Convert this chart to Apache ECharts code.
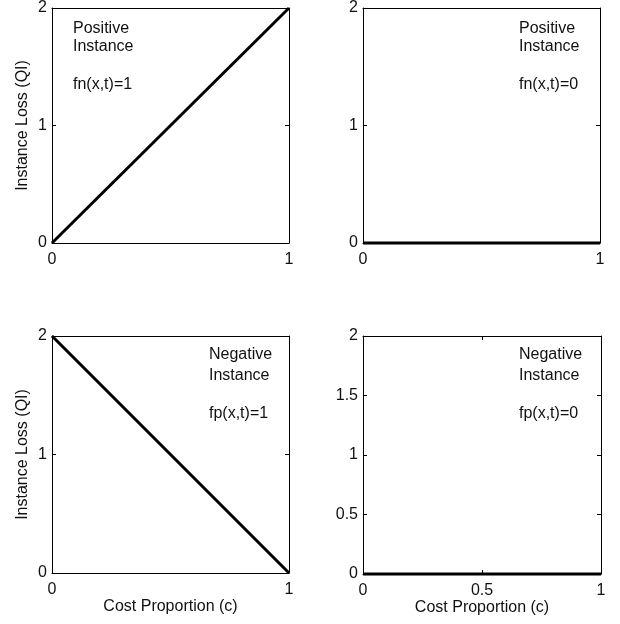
<!DOCTYPE html>
<html>
<head>
<meta charset="utf-8">
<script src="https://cdn.jsdelivr.net/npm/echarts@6/dist/echarts.min.js"></script>
<style>
html,body{margin:0;padding:0;background:#fff;}
#chart{width:620px;height:624px;}
</style>
</head>
<body>
<div id="chart"></div>
<script>
// ---- data ----
const costProportion = [0, 1];
const lossFnOne  = [0, 2];   // positive instance, fn(x,t)=1
const lossFnZero = [0, 0];   // positive instance, fn(x,t)=0
const lossFpOne  = [2, 0];   // negative instance, fp(x,t)=1
const lossFpZero = [0, 0];   // negative instance, fp(x,t)=0
const panelTexts = [
  ["Positive", "Instance", "fn(x,t)=1"],
  ["Positive", "Instance", "fn(x,t)=0"],
  ["Negative", "Instance", "fp(x,t)=1"],
  ["Negative", "Instance", "fp(x,t)=0"]
];
const panelSeries = [lossFnOne, lossFnZero, lossFpOne, lossFpZero];
const xTickStep = [1, 1, 1, 0.5];
const yTickStep = [1, 1, 1, 0.5];
const yAxisTitle = "Instance Loss (QI)";
const xAxisTitle = "Cost Proportion (c)";

// ---- layout ----
const FONT = "Liberation Sans, Arial, Helvetica, sans-serif";
const grids = [
  {left: 52,  top: 6,   width: 237, height: 237},
  {left: 363, top: 6,   width: 237, height: 237},
  {left: 52,  top: 336, width: 237, height: 237},
  {left: 363, top: 336, width: 238, height: 238}
];
const showYName = [true, false, true, false];
const showXName = [false, false, true, true];
const textPos = [
  {x: 73,  y: [29, 47, 85]},
  {x: 519, y: [29, 47, 85]},
  {x: 209, y: [355, 376, 414]},
  {x: 519, y: [355, 376, 414]}
];

const axisLineStyle = {show: true, onZero: false, lineStyle: {color: '#000', width: 1}};
const tickStyle = {show: true, inside: true, length: 4, lineStyle: {color: '#000', width: 1}};

const xAxes = [], yAxes = [], series = [], graphics = [];
grids.forEach((g, i) => {
  const common = {type: 'value', gridIndex: i, min: 0, max: 1, interval: xTickStep[i],
    axisLine: axisLineStyle, axisTick: tickStyle, splitLine: {show: false}};
  xAxes.push(Object.assign({}, common, {
    position: 'bottom',
    axisLabel: {show: true, color: '#111', fontSize: 16, fontFamily: FONT, margin: 9},
    name: showXName[i] ? xAxisTitle : '',
    nameLocation: 'middle', nameGap: 26,
    nameTextStyle: {color: '#111', fontSize: 16, fontFamily: FONT}
  }));
  xAxes.push(Object.assign({}, common, {position: 'top', axisLabel: {show: false}}));
  const ycommon = {type: 'value', gridIndex: i, min: 0, max: 2, interval: yTickStep[i],
    axisLine: axisLineStyle, axisTick: tickStyle, splitLine: {show: false}};
  yAxes.push(Object.assign({}, ycommon, {
    position: 'left',
    axisLabel: {show: true, color: '#111', fontSize: 16, fontFamily: FONT, margin: 5},
    name: showYName[i] ? yAxisTitle : '',
    nameLocation: 'middle', nameGap: 21, nameRotate: 90,
    nameTextStyle: {color: '#111', fontSize: 16, fontFamily: FONT}
  }));
  yAxes.push(Object.assign({}, ycommon, {position: 'right', axisLabel: {show: false}}));

  series.push({
    type: 'line',
    xAxisIndex: i * 2,
    yAxisIndex: i * 2,
    data: costProportion.map((c, k) => [c, panelSeries[i][k]]),
    symbol: 'none',
    clip: false,
    z: 5,
    lineStyle: {color: '#000', width: 3},
    silent: true
  });

  panelTexts[i].forEach((t, k) => {
    graphics.push({
      type: 'text',
      x: textPos[i].x,
      y: textPos[i].y[k],
      style: {text: t, fill: '#111', font: '16px ' + FONT, align: 'left', verticalAlign: 'middle'}
    });
  });
});

const chart = echarts.init(document.getElementById('chart'), null, {renderer: 'canvas'});
chart.setOption({
  animation: false,
  backgroundColor: '#fff',
  grid: grids,
  xAxis: xAxes,
  yAxis: yAxes,
  series: series,
  graphic: graphics
});
</script>
</body>
</html>
